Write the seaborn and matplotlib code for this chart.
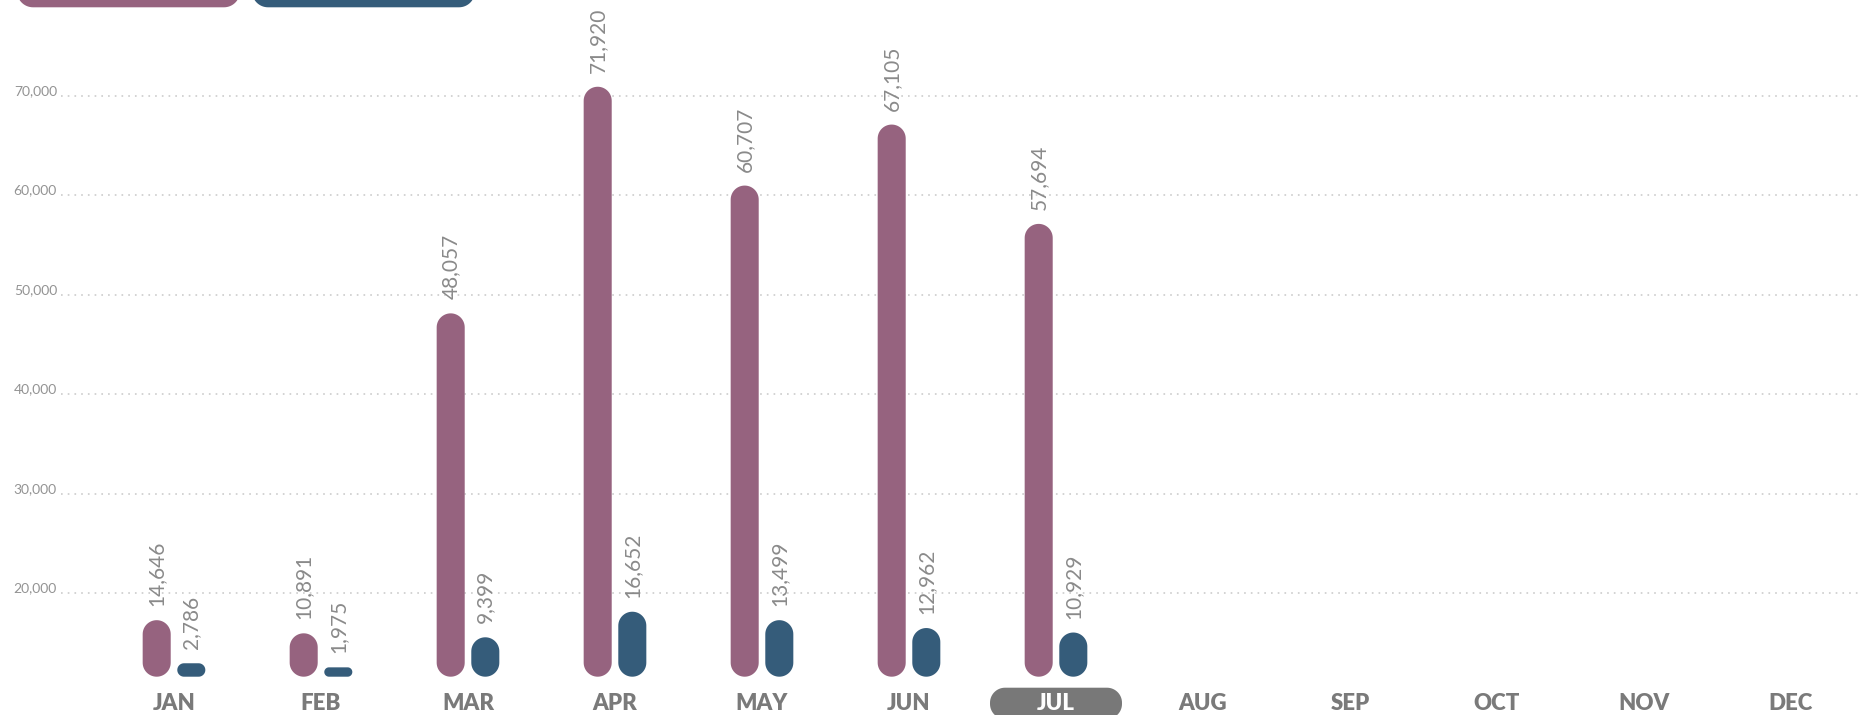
import numpy as np
import pandas as pd
import matplotlib
matplotlib.use("Agg")
import matplotlib.pyplot as plt
from matplotlib.path import Path
from matplotlib.patches import PathPatch
import seaborn as sns

# ---------------- data ----------------
months = ["JAN", "FEB", "MAR", "APR", "MAY", "JUN", "JUL",
          "AUG", "SEP", "OCT", "NOV", "DEC"]
data_months = ["JAN", "FEB", "MAR", "APR", "MAY", "JUN", "JUL"]
series_names = ["Series A", "Series B"]

# printed value labels
series_a_labels = [14646, 10891, 48057, 71920, 60707, 67105, 57694]
series_b_labels = [2786, 1975, 9399, 16652, 13499, 12962, 10929]

# bar tops as read against the drawn y axis
series_a_tops = [17300, 15980, 48130, 70900, 60970, 67100, 57120]
series_b_tops = [12970, 12560, 15580, 18150, 17300, 16510, 16060]
bar_base = 11620          # where the bars start on the drawn axis

y_ticks = [20000, 30000, 40000, 50000, 60000, 70000]
highlight_month = "JUL"

# ---------------- style ----------------
PINK = "#96637f"
BLUE = "#355c7a"
MONTH_GREY = "#7a7a7a"
VALUE_GREY = "#8a8a8a"
TICK_GREY = "#939393"
GRID_GREY = "#c8c8c8"
PILL_GREY = "#787878"

sns.set_theme(style="white")
plt.rcParams["font.family"] = ["Lato", "DejaVu Sans"]

W, H, DPI = 1862, 715, 100
fig = plt.figure(figsize=(W / DPI, H / DPI), dpi=DPI)
ax = fig.add_axes([0, 0, 1, 1])

df = pd.DataFrame({
    "month": data_months * 2,
    "series": [series_names[0]] * len(data_months) + [series_names[1]] * len(data_months),
    "top": series_a_tops + series_b_tops,
})

sns.barplot(data=df, x="month", y="top", hue="series", order=months,
            hue_order=series_names, palette=[PINK, BLUE], saturation=1,
            width=0.471, gap=0.19, errorbar=None, legend=False, ax=ax)

# axis geometry: month i centred at pixel 174 + 147 i; 20k at 593.3px, 70k at 95.7px (from top)
x_left = -174 / 147
x_right = (W - 174) / 147
upp = 50000 / (593.3 - 95.7)
ax.set_xlim(x_left, x_right)
ax.set_ylim(20000 - (H - 593.3) * upp, 70000 + 95.7 * upp)
ax.axis("off")

to_px = ax.transData.transform
to_data = ax.transData.inverted().transform


def rounded_rect(x0, y0, x1, y1, r, n=16):
    """rounded rectangle vertices in pixel space"""
    r = min(r, (x1 - x0) / 2, (y1 - y0) / 2)
    pts = []
    corners = [((x1 - r, y1 - r), 0, 90), ((x0 + r, y1 - r), 90, 180),
               ((x0 + r, y0 + r), 180, 270), ((x1 - r, y0 + r), 270, 360)]
    for (cx, cy), a0, a1 in corners:
        for a in np.linspace(np.radians(a0), np.radians(a1), n):
            pts.append((cx + r * np.cos(a), cy + r * np.sin(a)))
    pts.append(pts[0])
    return np.array(pts)


def add_round(px_pts, color, zorder, clip=True):
    verts = to_data(px_pts)
    codes = [Path.MOVETO] + [Path.LINETO] * (len(verts) - 2) + [Path.CLOSEPOLY]
    p = PathPatch(Path(verts, codes), facecolor=color, edgecolor="none",
                  zorder=zorder, clip_on=clip)
    ax.add_patch(p)
    return p


labels_by_series = [series_a_labels, series_b_labels]

# replace seaborn's rectangles by rounded bars starting at the drawn base
bars = [p for p in list(ax.patches) if np.isfinite(p.get_height()) and p.get_height() != 0]
for p in bars:
    x0 = p.get_x()
    x1 = x0 + p.get_width()
    xc = (x0 + x1) / 2
    top = p.get_y() + p.get_height()
    color = p.get_facecolor()
    (px0, py0) = to_px((x0, bar_base))
    (px1, py1) = to_px((x1, top))
    add_round(rounded_rect(px0, py0, px1, py1, 14), color, 3)
    p.remove()
    mi = int(round(xc))
    si = 0 if xc < mi else 1
    val = labels_by_series[si][mi]
    ax.annotate(f"{val:,}", (xc, top), xytext=(0, 14 * 72 / DPI),
                textcoords="offset points", rotation=90, ha="center", va="bottom",
                fontsize=15, fontweight="normal", color=VALUE_GREY, zorder=4)

# dotted gridlines and y labels
gx0 = to_data((61, 0))[0]
lx = to_data((57, 0))[0]
ax.hlines(y_ticks, gx0, x_right, colors=GRID_GREY, linewidth=1.1,
          linestyles=(0, (1.1, 3.3)), zorder=1)
for t in y_ticks:
    ax.annotate(f"{t:,}", (lx, t), xytext=(0, 1 * 72 / DPI), textcoords="offset points",
                ha="right", va="baseline", fontsize=10, color=TICK_GREY)

# month labels along the bottom
ylab = to_data((0, H - 702))[1]
for i, m in enumerate(months):
    if m == highlight_month:
        cx = to_px((i, 0))[0]
        add_round(rounded_rect(cx - 66, -4, cx + 66, H - 687.7, 15), PILL_GREY, 2)
        col = "white"
    else:
        col = MONTH_GREY
    ax.text(i, ylab, m, ha="center", va="center_baseline", fontsize=16,
            fontweight="heavy", color=col, zorder=5)

# legend pills (cut off at the top of the frame)
add_round(rounded_rect(17, H - 7.3, 240, H + 40, 16), PINK, 2)
add_round(rounded_rect(252, H - 7.3, 475, H + 40, 16), BLUE, 2)

fig.savefig("out.png", dpi=DPI)
